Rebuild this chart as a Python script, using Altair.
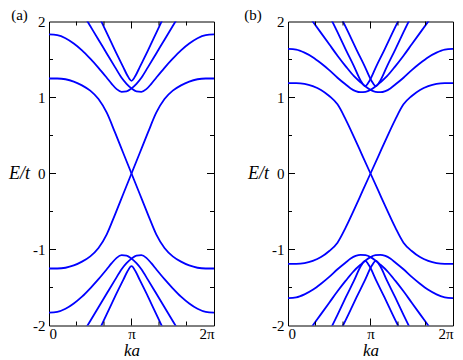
import altair as alt
import pandas as pd

# ---------------- data (k in units of pi, E in units of t) ----------------
# Panel (a) conduction bands
A_D1_K = [0.0, 0.1, 0.2, 0.3, 0.4, 0.5, 0.6, 0.7, 0.8, 0.9, 1.0]
A_D1_E = [1.25, 1.25, 1.24, 1.21, 1.16, 1.09, 0.98, 0.80, 0.54, 0.27, 0.0]
A_D2_K = [1.0, 1.1, 1.2, 1.3, 1.4, 1.5, 1.6, 1.7, 1.8, 1.9, 2.0]
A_D2_E = [0.0, 0.27, 0.54, 0.80, 0.98, 1.09, 1.16, 1.21, 1.24, 1.25, 1.25]
A_A_K = [0.0, 0.1, 0.2, 0.3, 0.4, 0.5, 0.6, 0.7, 0.76, 0.82, 0.88, 0.94, 1.0, 1.06, 1.12, 1.2, 1.3, 1.4, 1.5, 1.6]
A_A_E = [1.83, 1.82, 1.78, 1.71, 1.62, 1.51, 1.39, 1.26, 1.18, 1.11, 1.075, 1.08, 1.12, 1.18, 1.26, 1.40, 1.58, 1.76, 1.94, 2.12]
A_B_K = [0.4, 0.5, 0.6, 0.7, 0.8, 0.88, 0.94, 1.0, 1.06, 1.12, 1.18, 1.24, 1.3, 1.4, 1.5, 1.6, 1.7, 1.8, 1.9, 2.0]
A_B_E = [2.12, 1.94, 1.76, 1.58, 1.40, 1.26, 1.18, 1.12, 1.08, 1.075, 1.11, 1.18, 1.26, 1.39, 1.51, 1.62, 1.71, 1.78, 1.82, 1.83]
A_V_K = [0.6, 0.7, 0.8, 0.9, 0.95, 1.0, 1.05, 1.1, 1.2, 1.3, 1.4]
A_V_E = [2.08, 1.85, 1.62, 1.40, 1.29, 1.22, 1.29, 1.40, 1.62, 1.85, 2.08]
# Panel (a) valence bands
A_D1V_E = [-1.25, -1.25, -1.24, -1.21, -1.16, -1.09, -0.98, -0.80, -0.54, -0.27, 0.0]
A_D2V_E = [0.0, -0.27, -0.54, -0.80, -0.98, -1.09, -1.16, -1.21, -1.24, -1.25, -1.25]
A_AV_E = [-1.83, -1.82, -1.78, -1.71, -1.62, -1.51, -1.39, -1.26, -1.18, -1.11, -1.075, -1.08, -1.12, -1.18, -1.26, -1.40, -1.58, -1.76, -1.94, -2.12]
A_BV_E = [-2.12, -1.94, -1.76, -1.58, -1.40, -1.26, -1.18, -1.12, -1.08, -1.075, -1.11, -1.18, -1.26, -1.39, -1.51, -1.62, -1.71, -1.78, -1.82, -1.83]
A_VV_E = [-2.08, -1.85, -1.62, -1.40, -1.29, -1.22, -1.29, -1.40, -1.62, -1.85, -2.08]

# Panel (b) conduction bands
B_D1_K = [0.0, 0.1, 0.2, 0.3, 0.4, 0.5, 0.6, 0.7, 0.8, 0.9, 1.0]
B_D1_E = [1.19, 1.19, 1.18, 1.15, 1.10, 1.02, 0.91, 0.71, 0.48, 0.24, 0.0]
B_D2_K = [1.0, 1.1, 1.2, 1.3, 1.4, 1.5, 1.6, 1.7, 1.8, 1.9, 2.0]
B_D2_E = [0.0, 0.24, 0.48, 0.71, 0.91, 1.02, 1.10, 1.15, 1.18, 1.19, 1.19]
B_A_K = [0.0, 0.1, 0.2, 0.3, 0.4, 0.5, 0.6, 0.7, 0.76, 0.82, 0.88, 0.94, 1.0, 1.06, 1.12, 1.2, 1.3, 1.4, 1.5, 1.6, 1.7, 1.8]
B_A_E = [1.64, 1.63, 1.59, 1.53, 1.45, 1.36, 1.26, 1.17, 1.12, 1.085, 1.07, 1.075, 1.10, 1.145, 1.20, 1.28, 1.41, 1.55, 1.70, 1.85, 2.0, 2.15]
B_B_K = [0.2, 0.3, 0.4, 0.5, 0.6, 0.7, 0.8, 0.88, 0.94, 1.0, 1.06, 1.12, 1.18, 1.24, 1.3, 1.4, 1.5, 1.6, 1.7, 1.8, 1.9, 2.0]
B_B_E = [2.15, 2.0, 1.85, 1.70, 1.55, 1.41, 1.28, 1.20, 1.145, 1.10, 1.075, 1.07, 1.085, 1.12, 1.17, 1.26, 1.36, 1.45, 1.53, 1.59, 1.63, 1.64]
B_VL_K = [0.5, 0.6, 0.7, 0.8, 0.885, 0.935, 0.985, 1.07, 1.17, 1.27, 1.37]
B_VR_K = [0.63, 0.73, 0.83, 0.93, 1.015, 1.065, 1.115, 1.2, 1.3, 1.4, 1.5]
B_V_E = [2.08, 1.86, 1.63, 1.41, 1.215, 1.15, 1.215, 1.41, 1.63, 1.86, 2.08]
# Panel (b) valence bands
B_D1V_E = [-1.19, -1.19, -1.18, -1.15, -1.10, -1.02, -0.91, -0.71, -0.48, -0.24, 0.0]
B_D2V_E = [0.0, -0.24, -0.48, -0.71, -0.91, -1.02, -1.10, -1.15, -1.18, -1.19, -1.19]
B_AV_E = [-1.64, -1.63, -1.59, -1.53, -1.45, -1.36, -1.26, -1.17, -1.12, -1.085, -1.07, -1.075, -1.10, -1.145, -1.20, -1.28, -1.41, -1.55, -1.70, -1.85, -2.0, -2.15]
B_BV_E = [-2.15, -2.0, -1.85, -1.70, -1.55, -1.41, -1.28, -1.20, -1.145, -1.10, -1.075, -1.07, -1.085, -1.12, -1.17, -1.26, -1.36, -1.45, -1.53, -1.59, -1.63, -1.64]
B_VV_E = [-2.08, -1.86, -1.63, -1.41, -1.215, -1.15, -1.215, -1.41, -1.63, -1.86, -2.08]

PANEL_LABELS = ["(a)", "(b)"]
X_MAJOR = [0, 1, 2]
X_MINOR = [0.3333, 0.6667, 1.3333, 1.6667]
Y_MAJOR = [-2, -1, 0, 1, 2]
Y_MINOR = [-1.5, -0.5, 0.5, 1.5]

CURVES_A = {
    "d1": (A_D1_K, A_D1_E), "d2": (A_D2_K, A_D2_E), "a": (A_A_K, A_A_E),
    "b": (A_B_K, A_B_E), "v": (A_V_K, A_V_E),
    "d1v": (A_D1_K, A_D1V_E), "d2v": (A_D2_K, A_D2V_E), "av": (A_A_K, A_AV_E),
    "bv": (A_B_K, A_BV_E), "vv": (A_V_K, A_VV_E),
}
CURVES_B = {
    "d1": (B_D1_K, B_D1_E), "d2": (B_D2_K, B_D2_E), "a": (B_A_K, B_A_E),
    "b": (B_B_K, B_B_E), "vl": (B_VL_K, B_V_E), "vr": (B_VR_K, B_V_E),
    "d1v": (B_D1_K, B_D1V_E), "d2v": (B_D2_K, B_D2V_E), "av": (B_A_K, B_AV_E),
    "bv": (B_B_K, B_BV_E), "vlv": (B_VL_K, B_VV_E), "vrv": (B_VR_K, B_VV_E),
}

W, H = 165, 304
SERIF = "Liberation Serif"
BLUE = "#0000ff"


def curves_df(curves):
    rows = []
    for name, (ks, es) in curves.items():
        for k, e in zip(ks, es):
            rows.append({"curve": name, "k": k, "E": e})
    return pd.DataFrame(rows)


def panel(curves, label, label_x):
    xs = alt.Scale(domain=[0, 2], nice=False, zero=False)
    ys = alt.Scale(domain=[-2, 2], nice=False, zero=False)
    xaxis = alt.Axis(values=X_MAJOR, labelExpr="datum.value == 0 ? '0' : datum.value == 1 ? 'π' : '2π'",
                     ticks=False, domain=False, grid=False, labelPadding=1,
                     labelFont=SERIF, labelFontSize=15, labelColor="black",
                     title="ka", titleFont=SERIF, titleFontSize=17, titleFontStyle="italic",
                     titleFontWeight="normal", titleColor="black", titlePadding=1)
    yaxis = alt.Axis(values=Y_MAJOR,
                     labelExpr="datum.value < 0 ? '-' + abs(datum.value) : '' + datum.value",
                     ticks=False, domain=False, grid=False, labelPadding=4,
                     labelFont=SERIF, labelFontSize=15, labelColor="black",
                     title="E/t", titleAngle=0, titleAlign="right", titleBaseline="middle",
                     titlePadding=3, titleFont=SERIF, titleFontSize=18, titleFontStyle="italic",
                     titleFontWeight="normal", titleColor="black")
    lines = alt.Chart(curves_df(curves)).mark_line(
        color=BLUE, strokeWidth=1.8, interpolate="monotone", clip=True
    ).encode(
        x=alt.X("k:Q", scale=xs, axis=xaxis),
        y=alt.Y("E:Q", scale=ys, axis=yaxis),
        detail="curve:N",
    )
    ymaj = pd.DataFrame({"v": Y_MAJOR[1:-1]})
    ymin = pd.DataFrame({"v": Y_MINOR})
    xmaj = pd.DataFrame({"v": X_MAJOR[1:-1]})
    xmin = pd.DataFrame({"v": X_MINOR})
    layers = [lines]
    for df, ln in [(ymaj, 7), (ymin, 4)]:
        layers.append(alt.Chart(df).mark_rule(color="black", strokeWidth=1).encode(
            y=alt.Y("v:Q", scale=ys), x=alt.value(0), x2=alt.value(ln)))
        layers.append(alt.Chart(df).mark_rule(color="black", strokeWidth=1).encode(
            y=alt.Y("v:Q", scale=ys), x=alt.value(W), x2=alt.value(W - ln)))
    for df, ln in [(xmaj, 7), (xmin, 4)]:
        layers.append(alt.Chart(df).mark_rule(color="black", strokeWidth=1).encode(
            x=alt.X("v:Q", scale=xs), y=alt.value(H), y2=alt.value(H - ln)))
        layers.append(alt.Chart(df).mark_rule(color="black", strokeWidth=1).encode(
            x=alt.X("v:Q", scale=xs), y=alt.value(0), y2=alt.value(ln)))
    lab = alt.Chart(pd.DataFrame({"t": [label]})).mark_text(
        font=SERIF, fontSize=15, align="center", baseline="alphabetic", color="black"
    ).encode(text="t:N", x=alt.value(label_x), y=alt.value(-1.5))
    layers.append(lab)
    return alt.layer(*layers).properties(width=W, height=H)


pa = panel(CURVES_A, PANEL_LABELS[0], -29.5)
pb = panel(CURVES_B, PANEL_LABELS[1], -35)

chart = alt.hconcat(pa, pb, spacing=74, bounds="flush").properties(
    padding={"left": 0, "top": -0.5, "right": 0, "bottom": 0}
).configure_view(stroke="black", strokeWidth=1)

chart.save("out.html", embed_options={"renderer": "svg", "actions": False})
